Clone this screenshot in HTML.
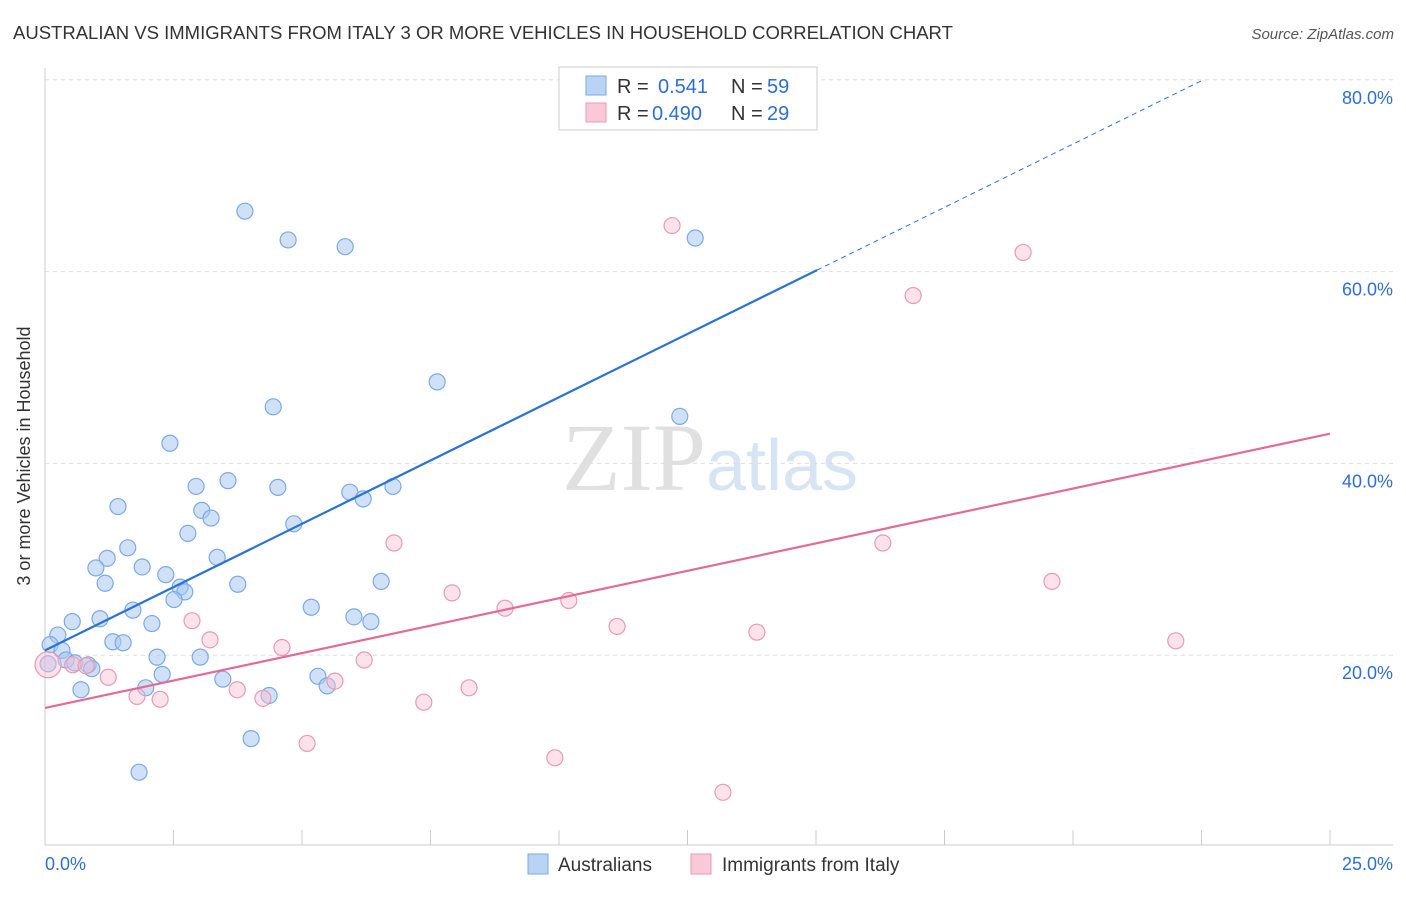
<!DOCTYPE html>
<html><head><meta charset="utf-8"><style>
body{margin:0;background:#fff;font-family:"Liberation Sans",sans-serif;}
</style></head><body>
<svg id="c" width="1406" height="892" xmlns="http://www.w3.org/2000/svg">
<text x="13" y="39" font-size="18.5" fill="#333">AUSTRALIAN VS IMMIGRANTS FROM ITALY 3 OR MORE VEHICLES IN HOUSEHOLD CORRELATION CHART</text>
<text x="1394" y="39" font-size="15" fill="#555" font-style="italic" text-anchor="end">Source: ZipAtlas.com</text>
<text x="30" y="456" font-size="18" fill="#333" text-anchor="middle" transform="rotate(-90 30 456)">3 or more Vehicles in Household</text>
<text x="710" y="490" font-size="96" fill="#ddd" text-anchor="middle" font-family="Liberation Serif,serif"><tspan fill="#e0e0e0">ZIP</tspan><tspan fill="#d6e4f4" font-family="Liberation Sans,sans-serif" font-size="72">atlas</tspan></text>
<g id="grid"></g><g id="marks"></g>
<g>
<rect x="559" y="67" width="258" height="63" fill="#fff" stroke="#ccc"/>
<rect x="586" y="76" width="20" height="19" fill="#b9d3f5" stroke="#7aaae6"/>
<text y="93" font-size="20" fill="#333"><tspan x="617">R =</tspan><tspan x="658" fill="#2f6fd0">0.541</tspan><tspan x="731">N =</tspan><tspan x="767" fill="#2f6fd0">59</tspan></text>
<rect x="586" y="103" width="20" height="19" fill="#f9c9d8" stroke="#e89ab4"/>
<text y="120" font-size="20" fill="#333"><tspan x="617">R =</tspan><tspan x="652" fill="#2f6fd0">0.490</tspan><tspan x="731">N =</tspan><tspan x="767" fill="#2f6fd0">29</tspan></text>
</g>
<g>
<rect x="528" y="854" width="20" height="20" fill="#b9d3f5" stroke="#7aaae6"/>
<text x="558" y="871" font-size="19" fill="#333">Australians</text>
<rect x="691" y="854" width="20" height="20" fill="#f9c9d8" stroke="#e89ab4"/>
<text x="722" y="871" font-size="19" fill="#333">Immigrants from Italy</text>
</g>
</svg>
<script>
const blueX=[3.89,4.73,5.84,12.65,7.63,4.44,12.35,2.43,2.94,3.56,4.53,5.93,6.19,6.77,1.42,3.05,3.23,4.84,2.78,1.61,1.21,3.35,0.99,1.89,2.35,1.17,3.75,2.63,2.72,2.51,6.54,1.71,5.18,6.01,6.34,0.53,1.07,2.08,0.25,1.32,1.52,0.10,0.33,0.41,0.58,0.84,0.91,2.18,3.02,2.28,5.31,3.46,0.70,1.96,5.49,4.36,4.01,1.83,0.06];
const blueY=[66.3,63.3,62.6,63.5,48.5,45.9,44.9,42.1,37.6,38.2,37.5,37.0,36.3,37.6,35.5,35.1,34.3,33.7,32.7,31.2,30.1,30.2,29.1,29.2,28.4,27.5,27.4,27.1,26.6,25.8,27.7,24.7,25.0,24.0,23.5,23.5,23.8,23.3,22.1,21.4,21.3,21.1,20.5,19.5,19.2,19.0,18.6,19.8,19.8,18.0,17.8,17.5,16.4,16.6,16.8,15.8,11.3,7.8,19.1];
const pinkX=[12.20,19.03,16.89,6.79,16.30,19.59,7.92,10.19,8.95,11.13,2.86,3.21,13.85,22.00,4.61,6.21,0.54,0.80,1.23,5.64,8.25,3.74,1.79,2.24,4.24,7.37,5.10,9.92,13.19,0.06];
const pinkY=[64.8,62.0,57.5,31.7,31.7,27.7,26.5,25.7,24.9,23.0,23.6,21.6,22.4,21.5,20.8,19.5,19.0,18.9,17.7,17.3,16.6,16.4,15.7,15.4,15.5,15.1,10.8,9.3,5.7,19.0];
const blueLine=[20.5,2.64]; // intercept, slope
const pinkLine=[14.5,1.144];
const yTicks=[20,40,60,80];
const yTickLabels=["20.0%","40.0%","60.0%","80.0%"];
const xTicks=[0,2.5,5,7.5,10,12.5,15,17.5,20,22.5,25];
const NS="http://www.w3.org/2000/svg";
const X=v=>45+v*51.4, Y=v=>847-v*9.59;
function mk(p,t,a){const e=document.createElementNS(NS,t);for(const k in a)e.setAttribute(k,a[k]);p.appendChild(e);return e;}
const g=document.getElementById('grid'),m=document.getElementById('marks');
yTicks.forEach((t,i)=>{
 const l=mk(g,'line',{x1:45,x2:1393,y1:Y(t),y2:Y(t),stroke:'#ddd','stroke-dasharray':'4 4'});
 
 
 const tx=mk(g,'text',{x:1393,y:Y(t)+24,'font-size':18,fill:'#2f6fd0','text-anchor':'end'});
 tx.textContent=yTickLabels[i];
 
 
});
const ax=mk(g,'line',{x1:45,x2:1393,y1:845,y2:845,stroke:'#ccc'});


const ay=mk(g,'line',{x1:45,x2:45,y1:68,y2:845,stroke:'#ccc'});


xTicks.forEach(t=>{const l=mk(g,'line',{x1:X(t),x2:X(t),y1:830,y2:845,stroke:'#ccc'});
 
 });
const x0=mk(g,'text',{x:45,y:870,'font-size':18,fill:'#2f6fd0'});x0.textContent='0.0%';


const x1=mk(g,'text',{x:1393,y:870,'font-size':18,fill:'#2f6fd0','text-anchor':'end'});x1.textContent='25.0%';


blueX.forEach((x,i)=>{const c=mk(m,'circle',{cx:X(x),cy:Y(blueY[i]),r:8,fill:'rgba(170,200,240,0.55)',stroke:'#7aaae6','stroke-width':1.2});
 
 });
pinkX.forEach((x,i)=>{const c=mk(m,'circle',{cx:X(x),cy:Y(pinkY[i]),r:i==pinkX.length-1?13:8,fill:'rgba(248,190,210,0.45)',stroke:'#e89ab4','stroke-width':1.2});
 
 });
const xs=15.02, xe=(80-blueLine[0])/blueLine[1];
const bl=mk(m,'line',{x1:X(0),y1:Y(blueLine[0]),x2:X(xs),y2:Y(blueLine[0]+blueLine[1]*xs),stroke:'#2a72d8','stroke-width':2.2});


const bd=mk(m,'line',{x1:X(xs),y1:Y(blueLine[0]+blueLine[1]*xs),x2:X(xe),y2:Y(80),stroke:'#2a72d8','stroke-width':1,'stroke-dasharray':'5 4'});


const pl=mk(m,'line',{x1:X(0),y1:Y(pinkLine[0]),x2:X(25),y2:Y(pinkLine[0]+pinkLine[1]*25),stroke:'#e46a96','stroke-width':2.2});


</script>
</body></html>
